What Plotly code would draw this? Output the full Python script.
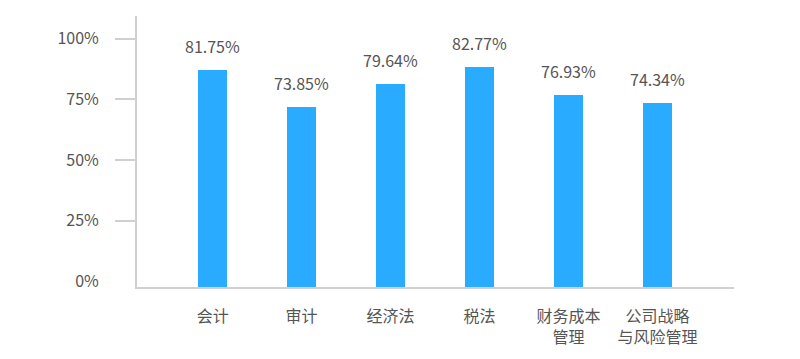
import plotly.graph_objects as go

categories = ["会计", "审计", "经济法", "税法", "财务成本<br>管理", "公司战略<br>与风险管理"]
bar_values = [0.871, 0.717, 0.813, 0.883, 0.768, 0.735]
label_texts = ["81.75%", "73.85%", "79.64%", "82.77%", "76.93%", "74.34%"]
y_ticks = [0, 0.25, 0.5, 0.75, 1.0]
y_tick_labels = ["0%", "25%", "50%", "75%", "100%"]

Y_MIN, Y_MAX = -0.023, 1.0935
FONT = "Noto Sans CJK SC"
TXT = "#555555"
LINE = "#d0d0d0"
BAR = "#29abff"

fig = go.Figure()
fig.add_trace(go.Bar(
    x=categories,
    y=[v - Y_MIN for v in bar_values],
    base=Y_MIN,
    width=0.33,
    marker=dict(color=BAR, line=dict(width=0)),
    hoverinfo="skip",
    showlegend=False,
))
# helper invisible trace to anchor the tick-mark axis
fig.add_trace(go.Scatter(
    x=[categories[0]], y=[0], yaxis="y2", mode="markers",
    marker=dict(opacity=0), hoverinfo="skip", showlegend=False,
))

for c, v, t in zip(categories, bar_values, label_texts):
    fig.add_annotation(
        x=c, y=v, text=t, showarrow=False, yanchor="middle", yshift=24,
        font=dict(family=FONT, size=16, color=TXT),
    )

fig.update_layout(
    width=800, height=359,
    margin=dict(l=137, r=66, t=16, b=72),
    paper_bgcolor="white", plot_bgcolor="white",
    font=dict(family=FONT, size=16, color=TXT),
    bargap=0,
    xaxis=dict(
        type="category",
        range=[-0.85, 5.86],
        showgrid=False, zeroline=False,
        showline=True, linecolor=LINE, linewidth=2,
        ticks="", ticklabelstandoff=14,
        tickfont=dict(family=FONT, size=16, color=TXT),
    ),
    yaxis=dict(
        range=[Y_MIN, Y_MAX],
        tickvals=y_ticks, ticktext=y_tick_labels,
        showgrid=False, zeroline=False,
        showline=True, linecolor=LINE, linewidth=2,
        ticks="", ticklabelstandoff=33,
        tickfont=dict(family=FONT, size=16, color=TXT),
    ),
    yaxis2=dict(
        range=[Y_MIN, Y_MAX], overlaying="y", side="left",
        tickvals=y_ticks[1:], showticklabels=False,
        ticks="outside", ticklen=21, tickwidth=2, tickcolor=LINE,
        showgrid=False, zeroline=False, showline=False,
    ),
)

fig.write_html("out.html")
